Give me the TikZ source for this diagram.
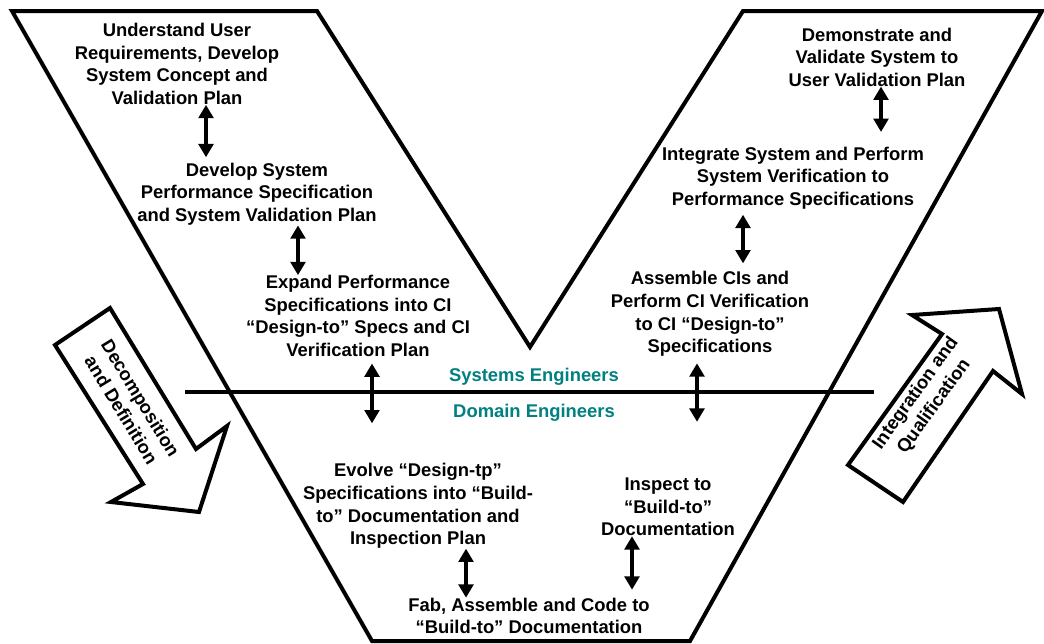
\documentclass[tikz,border=0pt]{standalone}
\usepackage{fontspec}
\setmainfont{Liberation Sans}
\usetikzlibrary{arrows.meta}
\definecolor{teamteal}{RGB}{0,128,128}
\tikzset{
  phase/.style      = {align=center, inner sep=0pt, font=\fontsize{13.8}{16.9}\selectfont\bfseries},
  team/.style       = {inner sep=0pt, text=teamteal, font=\fontsize{13.8}{16.9}\selectfont\bfseries},
  link/.style       = {line width=2.5pt, {Triangle[width=11pt,length=10pt]}-{Triangle[width=11pt,length=10pt]}},
  vee/.style        = {draw, line width=3pt, miter limit=20},
  big-arrow/.style  = {draw, fill=white, line width=3pt, line join=miter},
}

\begin{document}
\begin{tikzpicture}
  [
    x = 0.75pt,
    y = -0.75pt,
    every node/.style = {text=black}
  ]
  \useasboundingbox (0,0) rectangle (1044,643);

  % the V
  \draw [vee] (12,11) -- (317,11) -- (530,347) -- (743,11) -- (1042,11)
              -- (690,641) -- (372,641) -- cycle;
  \draw [line width=3pt] (185,392) -- (874,392);

  % big arrows at the sides
  \draw [big-arrow] (55,345) -- (110,308) -- (196,449) -- (227,426) -- (199,512)
                    -- (111,502) -- (143,484) -- cycle;
  \node [phase, rotate=-58.6] (decomp) at (131,404) {Decomposition\\and Definition};
  \draw [big-arrow] (848,465) -- (903,502) -- (993,371) -- (1022,394) -- (999,309)
                    -- (912,315) -- (942,334) -- cycle;
  \node [phase, rotate=54.3] (integ) at (925,400) {Integration and\\Qualification};

  % left leg
  \node [phase] (user)   at (177,64)  {Understand User\\Requirements, Develop\\System Concept and\\Validation Plan};
  \node [phase] (sysdev) at (257,194) {Develop System\\Performance Specification\\and System Validation Plan};
  \node [phase] (expand) at (358,316) {Expand Performance\\Specifications into CI\\“Design-to” Specs and CI\\Verification Plan};
  \node [phase] (evolve) at (418,506) {Evolve “Design-tp”\\Specifications into “Build-\\to” Documentation and\\Inspection Plan};

  % right leg
  \node [phase] (demo)     at (877,57)  {Demonstrate and\\Validate System to\\User Validation Plan};
  \node [phase] (sysint)   at (793,178) {Integrate System and Perform\\System Verification to\\Performance Specifications};
  \node [phase] (assemble) at (710,314) {Assemble CIs and\\Perform CI Verification\\to CI “Design-to”\\Specifications};
  \node [phase] (inspect)  at (668,507) {Inspect to\\“Build-to”\\Documentation};

  % bottom
  \node [phase] (fab) at (529,616) {Fab, Assemble and Code to\\“Build-to” Documentation};

  \node [team] (systems) at (534,377) {Systems Engineers};
  \node [team] (domain)  at (534,413) {Domain Engineers};

  % vertical links
  \coordinate (xa) at (206,0);
  \coordinate (xb) at (298,0);
  \coordinate (xc) at (881,0);
  \coordinate (xd) at (743,0);
  \coordinate (xe) at (372,0);
  \coordinate (xf) at (466,0);
  \coordinate (xg) at (697,0);
  \coordinate (xh) at (632,0);
  \draw [link, shorten >=4pt] (user.south -| xa) -- (sysdev.north -| xa);
  \draw [link] (sysdev.south -| xb) -- (expand.north -| xb);
  \draw [link, shorten >=11pt] (demo.south -| xc) -- (sysint.north -| xc);
  \draw [link, shorten <=4pt, shorten >=6pt] (sysint.south -| xd) -- (assemble.north -| xd);
  \draw [link, shorten <=5pt, shorten >=30pt] (expand.south -| xe) -- (evolve.north -| xe);
  \draw [link] (evolve.south -| xf) -- (fab.north -| xf);
  \draw [link, shorten <=5pt, shorten >=42pt] (assemble.south -| xg) -- (inspect.north -| xg);
  \draw [link, shorten >=6pt] (inspect.south -| xh) -- (fab.north -| xh);
\end{tikzpicture}
\end{document}
